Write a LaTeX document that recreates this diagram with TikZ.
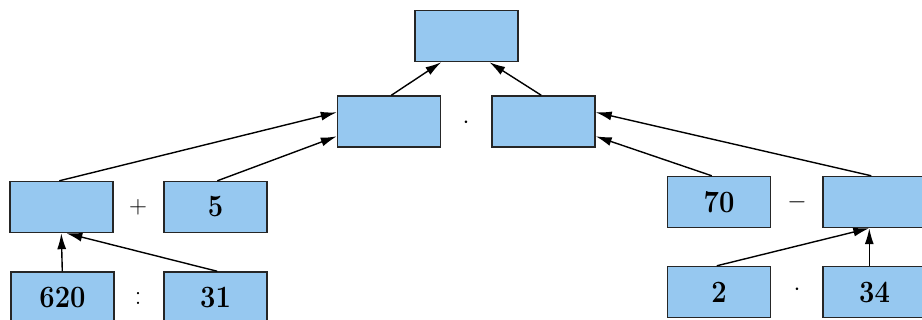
\documentclass[tikz,border=0pt]{standalone}
\usepackage{graphicx}
\usetikzlibrary{arrows.meta,calc}
\definecolor{boxblue}{HTML}{96C8F0}
\newcommand{\bnum}[1]{\scalebox{0.88}[1]{\bfseries #1}}
\begin{document}
\begin{tikzpicture}[x=1pt,y=-1pt,
  box/.style={draw=black!85,line width=1.4pt,fill=boxblue,minimum width=103pt,minimum height=51pt,inner sep=0pt,font=\fontsize{31}{31}\selectfont\bfseries},
  op/.style={inner sep=0pt,font=\fontsize{28}{28}\selectfont},
  arr/.style={line width=1.4pt,-{Latex[length=16pt,width=9pt]}}]
\useasboundingbox (0,0) rectangle (922,320);
\clip (0,0) rectangle (922,320);
% top
\node[box] (top) at (466.5,36) {};
% middle
\node[box] (ml) at (389,121.5) {};
\node[box] (mr) at (543.5,121.5) {};
\node[op] (dot1) at (466,123) {$\cdot$};
% row 3
\node[box] (a) at (61.5,207) {};
\node[op] (plus) at (138,207) {$+$};
\node[box] (five) at (215.5,207) {\bnum{5}};
\node[box] (seventy) at (719,202) {\bnum{70}};
\node[op] (minus) at (797,202) {$-$};
\node[box] (b) at (874.5,202) {};
% row 4
\node[box] (s620) at (62.5,297.5) {\bnum{620}};
\node[op] (colon) at (138,298) {:};
\node[box] (s31) at (215.5,297.5) {\bnum{31}};
\node[box] (two) at (719,292) {\bnum{2}};
\node[op] (dot2) at (797,290) {$\cdot$};
\node[box] (s34) at (874.5,292) {\bnum{34}};
% arrows
\draw[arr] ($(ml.north west)+(54.5,0)$) -- ($(top.south west)+(27,0)$);
\draw[arr] ($(mr.north west)+(50,0)$) -- ($(top.south west)+(75,0)$);
\draw[arr] ($(a.north west)+(50,0)$) -- ($(ml.north west)+(0,17)$);
\draw[arr] ($(five.north west)+(54,0)$) -- ($(ml.north west)+(0,41)$);
\draw[arr] ($(s620.north west)+(52,0)$) -- ($(a.south west)+(52,0)$);
\draw[arr] ($(s31.north west)+(54,0)$) -- ($(a.south west)+(57,0)$);
\draw[arr] ($(seventy.north west)+(45,0)$) -- ($(mr.north east)+(0,41)$);
\draw[arr] ($(b.north west)+(49,0)$) -- ($(mr.north east)+(0,17)$);
\draw[arr] ($(two.north west)+(50,0)$) -- ($(b.south west)+(47,0)$);
\draw[arr] ($(s34.north west)+(47,0)$) -- ($(b.south west)+(47,0)$);
\end{tikzpicture}
\end{document}
